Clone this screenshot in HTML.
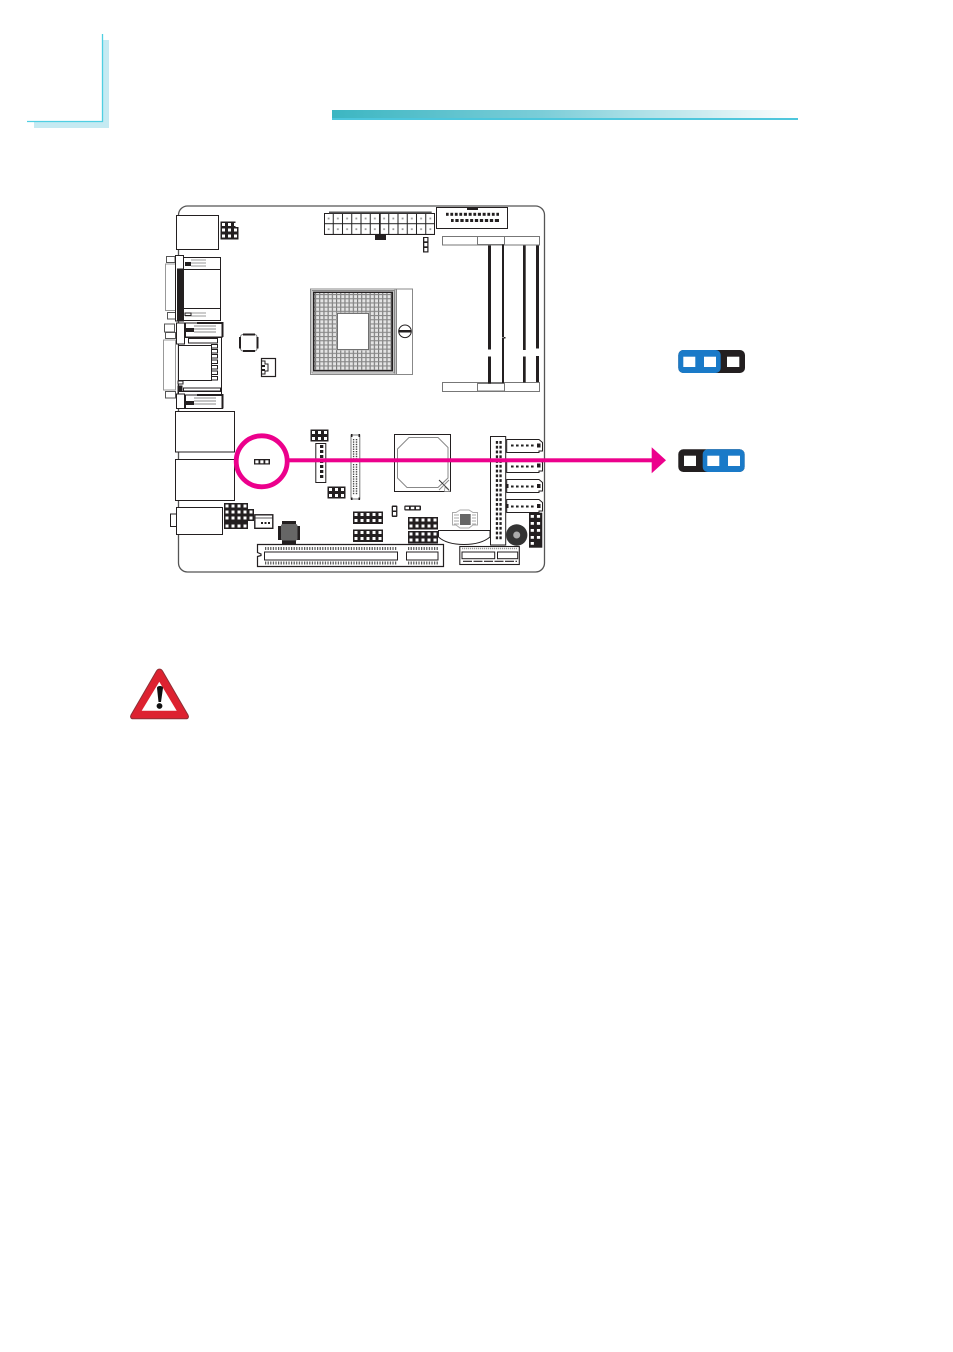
<!DOCTYPE html>
<html><head><meta charset="utf-8"><style>
html,body{margin:0;padding:0;background:#fff}
svg{display:block}
</style></head><body>
<svg xmlns="http://www.w3.org/2000/svg" width="953" height="1352" viewBox="0 0 953 1352">
<defs>
<linearGradient id="bar" x1="0" x2="1" y1="0" y2="0"><stop offset="0" stop-color="#3cb6c2"/><stop offset=".45" stop-color="#7bcdd8"/><stop offset=".8" stop-color="#cdecf0"/><stop offset="1" stop-color="#ffffff"/></linearGradient>
<pattern id="cell" width="6" height="6" patternUnits="userSpaceOnUse"><rect width="6" height="6" fill="#231f20"/><rect x="1.500" y="1.500" width="3" height="3" fill="#fff"/></pattern>
<pattern id="ide" width="3.700" height="4.770" patternUnits="userSpaceOnUse"><rect width="2.400" height="2.800" fill="#231f20"/></pattern>
<pattern id="tick" width="2.600" height="4" patternUnits="userSpaceOnUse"><rect width="1.200" height="4" fill="#555"/></pattern>
<pattern id="fpc" width="3" height="2.400" patternUnits="userSpaceOnUse"><rect width="1.400" height="1.300" fill="#333"/></pattern>
<pattern id="grid" width="4.200" height="4.200" patternUnits="userSpaceOnUse"><rect width="4.200" height="4.200" fill="#e4e4e4"/><rect width="1.100" height="4.200" fill="#777"/><rect width="4.200" height="1.100" fill="#888"/></pattern>
<pattern id="atx" width="9.250" height="10.700" patternUnits="userSpaceOnUse"><rect width="9.250" height="10.700" fill="#fff" stroke="#222" stroke-width="1"/><rect x="3.700" y="4.600" width="1.800" height="1.800" fill="#999"/></pattern>
<pattern id="pin2" width="5" height="5" patternUnits="userSpaceOnUse"><rect width="2.600" height="2.600" fill="#222"/></pattern>
</defs>

<!-- page corner -->
<rect x="34" y="40" width="75" height="88" fill="#c5eaf2"/>
<rect x="27" y="34" width="75.500" height="87" fill="#fff"/>
<path d="M102.500 34V121.500H27" fill="none" stroke="#4fcfe2" stroke-width="1.300"/>

<!-- header bar -->
<rect x="332" y="110" width="466" height="10" fill="url(#bar)"/>
<rect x="332" y="118" width="466" height="2" fill="#4dc6dc"/>

<!-- board -->
<rect x="178.500" y="206" width="366" height="366" rx="9" fill="#fff" stroke="#555" stroke-width="1.300"/>

<g fill="#fff" stroke="#231f20" stroke-width="1">
<!-- top-left block + header -->
<rect x="176.500" y="215.500" width="42" height="34"/>
<g stroke="none">
<g transform="translate(220.500 227)"><rect width="18" height="12.500" fill="url(#cell)"/></g>
<g transform="translate(220.500 221.500)"><rect width="15" height="5.500" fill="url(#cell)"/></g>
</g>

<!-- DB connector 1 -->
<rect x="165.500" y="264" width="10" height="46.500" stroke="#999"/>
<rect x="166.500" y="256.500" width="8.500" height="6" stroke="#555"/>
<rect x="167.500" y="312.500" width="8" height="6.500" stroke="#555"/>
<rect x="183.500" y="257.500" width="37" height="63"/>
<path d="M183.500 269.500H220.500M183.500 308.500H220.500"/>
<rect x="175.500" y="255.500" width="8" height="65.500"/>
<rect x="177.500" y="269" width="5" height="52" fill="#231f20"/>
<rect x="185" y="262" width="6" height="4" fill="#231f20" stroke="none"/>
<path d="M191 260H206M191 263H206M191 266H206M185 313H206M185 316H206" stroke="#999"/>
<rect x="185" y="313" width="6" height="2.500" fill="#fff"/>

<!-- DB connector 2 -->
<rect x="163.500" y="340" width="12" height="50" stroke="#999"/>
<rect x="164.500" y="324" width="10" height="8" stroke="#555"/>
<rect x="165.500" y="332.500" width="10" height="6" stroke="#555"/>
<rect x="165.500" y="391.500" width="10" height="6.500" stroke="#555"/>
<rect x="178.500" y="337.500" width="43" height="71"/>
<rect x="185.500" y="323" width="37" height="14"/>
<path d="M197 323H222.500V337" stroke-width="2" fill="none"/>
<rect x="176.500" y="323" width="8" height="21"/>
<rect x="185" y="328" width="9" height="4" fill="#231f20" stroke="none"/>
<path d="M194 326H216M194 329H216M194 332H216" stroke="#888"/>
<rect x="188.500" y="338.500" width="29" height="4.500"/>
<rect x="178.500" y="345.500" width="33" height="35"/>
<g>
<rect x="211.500" y="344.500" width="6" height="3.500"/><rect x="211.500" y="349.500" width="6" height="3.500"/><rect x="211.500" y="354.500" width="6" height="3.500"/><rect x="211.500" y="360" width="6" height="3.500"/><rect x="211.500" y="365.500" width="6" height="3.500"/><rect x="211.500" y="371" width="6" height="3.500"/><rect x="211.500" y="376.500" width="6" height="3.500"/>
</g>
<rect x="178" y="381" width="5" height="3"/>
<rect x="178" y="386" width="4" height="8" fill="#231f20"/>
<rect x="183.500" y="388" width="37" height="3"/>
<rect x="178.500" y="391.500" width="43" height="3.500"/>
<rect x="176.500" y="394" width="8" height="14.500"/>
<rect x="185.500" y="395" width="37" height="13.500"/>
<path d="M197 395H222.500V408.500" stroke-width="2" fill="none"/>
<rect x="185" y="401" width="9" height="4" fill="#231f20" stroke="none"/>
<path d="M194 398H216M194 401H216M194 404H216" stroke="#888"/>

<!-- chip & fan -->
<rect x="240.500" y="334.500" width="16.500" height="16.500" rx="2.500" stroke="#777"/>
<path d="M243 334.500H255M243 351H255M240 337V348.500M257.500 337V348.500" stroke-width="2"/>
<rect x="261.500" y="358.500" width="14" height="18" stroke-width="1.200"/>
<path d="M262 361H265V364H268V371H265V374H262" fill="none" stroke-width="1"/>
<rect x="262" y="365" width="3" height="2" fill="#231f20" stroke="none"/>
<rect x="262" y="369" width="3" height="2" fill="#231f20" stroke="none"/>

<!-- ATX -->
<g transform="translate(324 213)"><rect width="111" height="21.400" fill="url(#atx)" stroke="none"/><rect x=".5" y=".5" width="110" height="21" fill="none"/></g>
<rect x="329" y="211.500" width="102.700" height="1.800" fill="#555" stroke="none"/>
<rect x="379.500" y="213" width="1.200" height="21.500" fill="#231f20" stroke="none"/>
<rect x="375" y="234.500" width="11" height="5.500" fill="#231f20" stroke="none"/>
<!-- box header -->
<rect x="436.500" y="207.500" width="71" height="21"/>
<rect x="467" y="207.500" width="11" height="2.500" fill="#231f20" stroke="none"/>
<g transform="translate(446 212.800)" stroke="none"><rect width="53" height="3" fill="#231f20"/></g>
<path d="M449.500 212.500v4M454 212.500v4M458.500 212.500v4M463 212.500v4M467.800 212.500v4M472.500 212.500v4M477 212.500v4M481.800 212.500v4M486.500 212.500v4M491 212.500v4M495.500 212.500v4" stroke="#fff" stroke-width="1.700"/>
<g transform="translate(451 219)" stroke="none"><rect width="48" height="3" fill="#231f20"/></g>
<path d="M454.500 218.500v4M459.500 218.500v4M464.500 218.500v4M469.300 218.500v4M474 218.500v4M479 218.500v4M484 218.500v4M489 218.500v4M494 218.500v4" stroke="#fff" stroke-width="1.700"/>
<!-- 3 pin -->
<rect x="423" y="237" width="5.500" height="15.500" fill="#231f20" stroke="none"/>
<rect x="424.300" y="238" width="3" height="3.300" fill="#fff" stroke="none"/>
<rect x="424.300" y="243" width="3" height="3.300" fill="#fff" stroke="none"/>
<rect x="424.300" y="248" width="3" height="3.300" fill="#fff" stroke="none"/>

<!-- DIMM -->
<g stroke="#777">
<rect x="442.500" y="236.500" width="97" height="8.500"/>
<rect x="477.500" y="236.500" width="27" height="8"/>
<rect x="442.500" y="382.500" width="97" height="9"/>
<rect x="477.500" y="383.500" width="27" height="7.500"/>
</g>
<g fill="#231f20" stroke="none">
<rect x="488" y="245.500" width="3" height="104"/><rect x="488" y="356.500" width="3" height="27"/>
<rect x="502" y="244.500" width="2" height="93"/><rect x="502" y="338" width="2" height="45"/>
<rect x="523" y="245.500" width="2.700" height="104.500"/><rect x="523" y="356.500" width="2.700" height="26"/>
<rect x="536" y="245.500" width="3" height="103"/><rect x="536" y="356" width="3" height="26"/>
</g>
<rect x="504" y="337" width="1.500" height="1.500" fill="#231f20" stroke="none"/>

<!-- CPU socket -->
<rect x="310.500" y="289" width="102" height="85.500" stroke="#888"/>
<path d="M395 289V374.500M396.500 289V374.500" stroke="#888"/>
<rect x="312" y="290.500" width="82" height="82.500" stroke="#888"/>
<rect x="313" y="291.500" width="80" height="80" fill="#231f20" stroke="none"/>
<rect x="314.500" y="293" width="77" height="77" fill="url(#grid)" stroke="none"/>
<rect x="336.500" y="312.500" width="33" height="38" fill="#bbb" stroke="none"/>
<rect x="337.500" y="313.500" width="31" height="36" stroke="#555" stroke-width=".8"/>
<rect x="339" y="315" width="28" height="33" stroke="none"/>
<circle cx="405" cy="331.300" r="6.300"/>
<rect x="398.500" y="330" width="13" height="2.500" fill="#231f20" stroke="none"/>

<!-- RJ45 + audio -->
<rect x="175.500" y="411.500" width="59" height="40.500"/>
<rect x="175.500" y="459.500" width="59" height="41"/>
<rect x="170.500" y="514" width="6" height="12.500"/>
<rect x="176.500" y="507.500" width="46" height="27"/>

<!-- lower-left header cluster -->
<g transform="translate(224 503)" stroke="none"><rect width="24" height="6" fill="url(#cell)"/></g>
<g transform="translate(224 509)" stroke="none"><rect width="30" height="12" fill="url(#cell)"/></g>
<g transform="translate(224 523)" stroke="none"><rect width="24" height="6" fill="url(#cell)"/></g>
<rect x="224" y="521" width="24" height="2" fill="#231f20" stroke="none"/>
<rect x="254.800" y="514.800" width="18" height="13.500" stroke-width="1.400"/>
<path d="M254 518H273" stroke="#231f20" stroke-width=".8"/>
<rect x="261" y="522" width="2" height="2" fill="#231f20" stroke="none"/><rect x="264.500" y="522" width="2" height="2" fill="#231f20" stroke="none"/><rect x="268" y="522" width="2" height="2" fill="#231f20" stroke="none"/>
<rect x="254" y="459" width="16" height="5.500" fill="#231f20" stroke="none"/>
<rect x="255.300" y="460.300" width="3.200" height="3" fill="#fff" stroke="none"/><rect x="260.300" y="460.300" width="3.200" height="3" fill="#fff" stroke="none"/><rect x="265.300" y="460.300" width="3.200" height="3" fill="#fff" stroke="none"/>

<!-- mosfet -->
<rect x="278" y="526" width="22" height="14" fill="#231f20" stroke="none"/>
<rect x="282" y="521" width="14" height="23.500" fill="#231f20" stroke="none"/>
<rect x="281" y="524" width="16.500" height="16.500" rx="2" fill="#666" stroke="none"/>

<!-- middle headers -->
<g transform="translate(310.500 429.500)" stroke="none"><rect width="18" height="12" fill="url(#cell)"/></g>
<rect x="315.800" y="443.500" width="10" height="39" />
<g fill="#231f20" stroke="none"><rect x="320" y="445" width="3.300" height="3"/><rect x="320" y="450" width="3.300" height="3"/><rect x="320" y="455" width="3.300" height="3"/><rect x="320" y="460" width="3.300" height="3"/><rect x="320" y="465" width="3.300" height="3"/><rect x="320" y="470" width="3.300" height="3"/><rect x="320" y="475" width="3.300" height="3"/></g>
<g transform="translate(327.500 486.500)" stroke="none"><rect width="18" height="12" fill="url(#cell)"/></g>
<rect x="351" y="435" width="8.800" height="64" stroke="#777"/>
<rect x="351" y="434" width="1.500" height="3" fill="#231f20" stroke="none"/><rect x="358.500" y="434" width="1.500" height="3" fill="#231f20" stroke="none"/>
<rect x="351" y="497.500" width="1.500" height="2.500" fill="#231f20" stroke="none"/><rect x="358.500" y="497.500" width="1.500" height="2.500" fill="#231f20" stroke="none"/>
<g transform="translate(352.800 439)" stroke="none"><rect width="5.400" height="20" fill="url(#fpc)"/></g>
<g transform="translate(352.800 464)" stroke="none"><rect width="5.400" height="31" fill="url(#fpc)"/></g>

<!-- chipset -->
<rect x="394.500" y="434.500" width="56" height="57"/>
<path d="M409 437.500H438L448 447.500V478L438 487.500H407L397.500 478V449Z" stroke="#888"/>
<path d="M439 480L449 490" stroke="#333" stroke-width="1"/>
<path d="M449 480L439 490" stroke="#888" stroke-width="1"/>
<path d="M445 487L450 491.500L444.500 491.500Z" fill="#fff" stroke="#888" stroke-width=".7"/>

<!-- small headers -->
<g transform="translate(353 511.500)" stroke="none"><rect width="30" height="12.500" fill="url(#cell)"/></g>
<g transform="translate(353 529.500)" stroke="none"><rect width="30" height="12.500" fill="url(#cell)"/></g>
<rect x="391.700" y="505.500" width="5.700" height="11.500" fill="#231f20" stroke="none" rx="1"/>
<rect x="393" y="507" width="3.100" height="3.500" fill="#fff" stroke="none"/><rect x="393" y="512" width="3.100" height="3.500" fill="#fff" stroke="none"/>
<rect x="404.300" y="505.500" width="16.700" height="5" fill="#231f20" stroke="none" rx="1"/>
<rect x="405.500" y="506.800" width="3.500" height="2.400" fill="#fff" stroke="none"/><rect x="410.800" y="506.800" width="3.500" height="2.400" fill="#fff" stroke="none"/><rect x="416" y="506.800" width="3.500" height="2.400" fill="#fff" stroke="none"/>
<g transform="translate(408 517)" stroke="none"><rect width="30" height="12.500" fill="url(#cell)"/></g>
<g transform="translate(408 531)" stroke="none"><rect width="30" height="12.500" fill="url(#cell)"/></g>

<!-- gray chip -->
<path d="M456 512.500L460 510H469L473 512.500H477.500V525H473L469 528H460L456 525H452.500V512.500Z" stroke="#aaa"/>
<rect x="460" y="514" width="10.700" height="11" fill="#666" stroke="none"/>
<path d="M454 515H459M454 518H459M454 521H459M454 524H459M472 515H476M472 518H476M472 521H476M472 524H476" stroke="#aaa"/>

<!-- battery -->
<path d="M438.500 530.500H490V537C484 542 475 544.500 464 544.500C452 544.500 444 542 438.500 537Z" stroke-width="1"/>

<!-- IDE -->
<rect x="490.500" y="436.500" width="15.200" height="108.500"/>
<g transform="translate(495.700 441)" stroke="none"><rect width="6.200" height="100" fill="url(#ide)"/></g>

<!-- SATA -->
<path d="M506.700 439.500H539L542.500 442.500V451H539V452.500H506.700Z"/>
<rect x="537" y="443.500" width="3.500" height="4" fill="#231f20" stroke="none"/>
<g transform="translate(511 444.500)" stroke="none"><rect width="24" height="2" fill="url(#pin2)"/></g>
<path d="M506.700 459.500H539L542.500 462.500V471H539V472.500H506.700Z"/><rect x="537" y="463.500" width="3.500" height="4" fill="#231f20" stroke="none"/>
<g transform="translate(511 465.500)" stroke="none"><rect width="24" height="2" fill="url(#pin2)"/></g>
<path d="M506.700 479.500H539L542.500 482.500V491H539V492.500H506.700Z"/><rect x="505.500" y="484" width="3" height="4" fill="#231f20" stroke="none"/><rect x="537" y="484" width="3.500" height="4" fill="#231f20" stroke="none"/>
<g transform="translate(511 485.500)" stroke="none"><rect width="24" height="2" fill="url(#pin2)"/></g>
<path d="M506.700 499.500H539L542.500 502.500V511H539V512.500H506.700Z"/><rect x="505.500" y="504" width="3" height="4" fill="#231f20" stroke="none"/><rect x="537" y="504" width="3.500" height="4" fill="#231f20" stroke="none"/>
<g transform="translate(511 505.500)" stroke="none"><rect width="24" height="2" fill="url(#pin2)"/></g>

<!-- right header -->
<g transform="translate(529 512.700)" stroke="none"><rect width="13.300" height="35" fill="#231f20"/><g fill="#fff"><rect x="1.700" y="2.300" width="3.200" height="2.800"/><rect x="7.900" y="2.300" width="3.200" height="2.800"/><rect x="1.700" y="9.300" width="3.200" height="2.800"/><rect x="7.900" y="9.300" width="3.200" height="2.800"/><rect x="1.700" y="16.300" width="3.200" height="2.800"/><rect x="7.900" y="16.300" width="3.200" height="2.800"/><rect x="1.700" y="23.300" width="3.200" height="2.800"/><rect x="7.900" y="23.300" width="3.200" height="2.800"/><rect x="1.700" y="29.300" width="3.200" height="2.800"/></g></g>
<!-- buzzer -->
<circle cx="516.700" cy="535" r="10.700" fill="#333" stroke="none"/>
<circle cx="516.700" cy="535" r="3.500" fill="#aaa" stroke="none"/>

<!-- PCIe -->
<path d="M257.500 544.500H443.500V566.500H257.500V556.500L261 555.500V554L257.500 552.500Z" stroke-width="1.200"/>
<rect x="264.500" y="552" width="133" height="8"/>
<rect x="406.500" y="552" width="31.500" height="8"/>
<g transform="translate(265 547)" stroke="none"><rect width="132" height="3" fill="url(#tick)"/><rect x="142" width="31" height="3" fill="url(#tick)"/></g>
<g transform="translate(265 561.500)" stroke="none"><rect width="132" height="3" fill="url(#tick)"/><rect x="142" width="31" height="3" fill="url(#tick)"/></g>

<!-- mini PCIe -->
<rect x="459.800" y="546.500" width="59.500" height="18" stroke-width="1.100"/>
<rect x="462" y="552" width="32.700" height="6.700"/>
<rect x="497.500" y="552" width="20.200" height="6.700"/>
<path d="M462 548.500H517" stroke="#999" stroke-width="1.500" stroke-dasharray="1.200 .8"/>
<path d="M463 561.300H517" stroke="#231f20" stroke-width="1.200" stroke-dasharray="9 1.500"/>
</g>

<!-- pink callout -->
<circle cx="261.700" cy="461.300" r="25.500" fill="none" stroke="#ec008c" stroke-width="4.800"/>
<rect x="288" y="458.300" width="364" height="4" fill="#ec008c"/>
<path d="M651.700 447.300L666 460.300L651.700 473.300Z" fill="#ec008c"/>

<!-- jumpers -->
<rect x="678.300" y="350" width="66.700" height="23" rx="5" fill="#231f20"/>
<rect x="678.300" y="350" width="42.400" height="23" rx="5" fill="#1a7ac8"/>
<rect x="683.300" y="356.700" width="12" height="10.300" fill="#fff"/>
<rect x="704" y="356.700" width="12" height="10.300" fill="#fff"/>
<rect x="727" y="356.700" width="12.300" height="10.300" fill="#fff"/>

<rect x="678.300" y="449.300" width="66.300" height="22.700" rx="5" fill="#231f20"/>
<rect x="702.700" y="449.300" width="41.900" height="22.700" rx="5" fill="#1a7ac8"/>
<rect x="684" y="455.700" width="12" height="10.300" fill="#fff"/>
<rect x="707.300" y="455.700" width="12" height="10.300" fill="#fff"/>
<rect x="728" y="455.700" width="12" height="10.300" fill="#fff"/>

<!-- warning -->
<path d="M156.500 671C158 668.500 161 668.500 162.500 671L188 715C189 717 188.300 718.800 186 718.800H133C130.800 718.800 130 717 131 715Z" fill="#dd2230" stroke="#8d3036" stroke-width="1"/>
<path d="M159.300 681.700L176.700 710.700H141.700Z" fill="#fff"/>
<path d="M157 688C157 685.300 163 685.300 163 688L161 702H158.500Z" fill="#111"/>
<circle cx="159.500" cy="706" r="2.900" fill="#111"/>
</svg>
</body></html>
